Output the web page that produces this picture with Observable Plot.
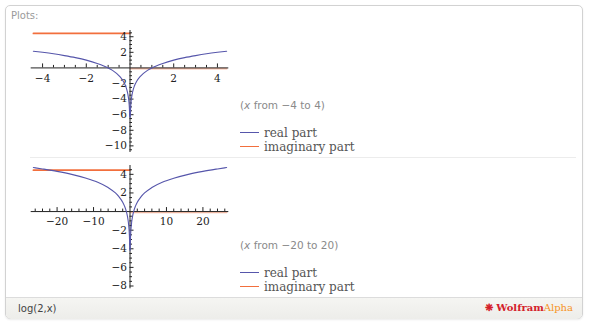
<!DOCTYPE html>
<html><head><meta charset="utf-8">
<script src="https://cdn.jsdelivr.net/npm/d3@7"></script>
<script src="https://cdn.jsdelivr.net/npm/@observablehq/plot@0.6"></script>
<style>
html,body{margin:0;padding:0;background:#fff;}
body{width:590px;height:327px;position:relative;overflow:hidden;font-family:"DejaVu Sans",sans-serif;}
#box{position:absolute;left:5px;top:5px;width:578px;height:314px;border:1px solid #d2d2d2;border-radius:5px;box-sizing:border-box;box-shadow:0 1px 2px rgba(0,0,0,0.08);overflow:hidden;}
#plotsLbl{position:absolute;left:11px;top:10px;font-size:10px;color:#9a9a9a;}
.sep{position:absolute;left:30px;width:546px;height:1px;background:#ececec;top:157px;}
#footer{position:absolute;left:6px;top:297px;width:576px;height:21px;background:linear-gradient(#f5f5f2,#ededea);border-top:1px solid #dcdcdc;border-radius:0 0 5px 5px;}
#formula{position:absolute;left:12px;top:5px;font-size:10px;color:#444;}
#logo{position:absolute;right:9px;top:4px;font-family:"DejaVu Serif",serif;font-size:10px;font-weight:bold;white-space:nowrap;}
.panel{position:absolute;left:0;}
.note{position:absolute;left:240px;font-size:10.5px;color:#8a8a8a;white-space:nowrap;}
.leg{position:absolute;left:240px;font-family:"DejaVu Serif",serif;font-size:12px;color:#555;white-space:nowrap;line-height:14px;}
.sw{display:inline-block;width:19px;height:0;border-top:1.5px solid;vertical-align:middle;margin-right:5px;position:relative;top:-1px;}
</style>
</head><body>
<div id="box"></div>
<div id="plotsLbl">Plots:</div>
<div class="sep"></div>
<div id="p1" class="panel" style="top:0px"></div>
<div id="p2" class="panel" style="top:158px"></div>
<div class="note" style="top:99px">(<i>x</i> from −4 to 4)</div>
<div class="leg" style="top:126px"><span class="sw" id="s1r"></span>real part</div>
<div class="leg" style="top:140px"><span class="sw" id="s1i"></span>imaginary part</div>
<div class="note" style="top:239px">(<i>x</i> from −20 to 20)</div>
<div class="leg" style="top:266px"><span class="sw" id="s2r"></span>real part</div>
<div class="leg" style="top:280px"><span class="sw" id="s2i"></span>imaginary part</div>
<div id="footer"><div id="formula">log(2,x)</div><div id="logo"><span style="color:#d4202a">❋ Wolfram</span><span style="color:#f7931e;font-weight:normal">Alpha</span></div></div>
<script>
// ---- colours ----
const realColor = "#5656ab";
const imagColor = "#f26f3d";
const axisColor = "#222";

// ---- panel 1: x from -4 to 4 ----
const realX1 = [-4.42,-4,-3.5,-3,-2.5,-2,-1.5,-1.2,-1,-0.8,-0.6,-0.45,-0.3,-0.2,-0.12,-0.07,-0.04,-0.025,-0.0125,
                0.0125,0.025,0.04,0.07,0.12,0.2,0.3,0.45,0.6,0.8,1,1.2,1.5,2,2.5,3,3.5,4,4.42];
const realY1 = [2.14,2,1.81,1.58,1.32,1,0.58,0.26,0,-0.32,-0.74,-1.15,-1.74,-2.32,-3.06,-3.84,-4.64,-5.32,-6.32,
                -6.32,-5.32,-4.64,-3.84,-3.06,-2.32,-1.74,-1.15,-0.74,-0.32,0,0.26,0.58,1,1.32,1.58,1.81,2,2.14];
const imagX1 = [-4.42,-0.0125,0.0125,4.42];
const imagY1 = [4.53,4.53,0,0];
const imagSeg1 = ["neg","neg","pos","pos"];
const xTicks1 = [-4,-2,2,4];
const xTickLabels1 = ["−4","−2","2","4"];
const yTicks1 = [-10,-8,-6,-4,-2,2,4];
const yTickLabels1 = ["−10","−8","−6","−4","−2","2","4"];

// ---- panel 2: x from -20 to 20 ----
const realX2 = [-26.5,-24,-20,-16,-12,-9,-6,-4,-3,-2,-1.5,-1,-0.7,-0.45,-0.3,-0.18,-0.11,-0.075,-0.055,
                0.055,0.075,0.11,0.18,0.3,0.45,0.7,1,1.5,2,3,4,6,9,12,16,20,24,26.5];
const realY2 = [4.73,4.58,4.32,4,3.58,3.17,2.58,2,1.58,1,0.58,0,-0.51,-1.15,-1.74,-2.47,-3.18,-3.74,-4.18,
                -4.18,-3.74,-3.18,-2.47,-1.74,-1.15,-0.51,0,0.58,1,1.58,2,2.58,3.17,3.58,4,4.32,4.58,4.73];
const imagX2 = [-26.5,-0.055,0.055,26.5];
const imagY2 = [4.53,4.53,0,0];
const imagSeg2 = ["neg","neg","pos","pos"];
const xTicks2 = [-20,-10,10,20];
const xTickLabels2 = ["−20","−10","10","20"];
const yTicks2 = [-8,-6,-4,-2,2,4];
const yTickLabels2 = ["−8","−6","−4","−2","2","4"];

for (const id of ["s1r","s2r"]) document.getElementById(id).style.borderColor = realColor;
for (const id of ["s1i","s2i"]) document.getElementById(id).style.borderColor = imagColor;

function panel({realX, realY, imagX, imagY, imagSeg, xTicks, xLabels, yTicks, yLabels,
                xMinorStep, yMinorStep, xDomain, yDomain, height, marginTop, marginBottom, xLabelDy}) {
  const real = realX.map((x, i) => ({x, y: realY[i]}));
  const imag = imagX.map((x, i) => ({x, y: imagY[i], seg: imagSeg[i]}));
  const xMinor = d3.range(Math.ceil(xDomain[0] / xMinorStep) * xMinorStep, xDomain[1], xMinorStep)
    .map(v => +v.toFixed(4)).filter(v => v !== 0 && !xTicks.includes(v) && Math.abs(v) < Math.abs(xDomain[0]) - 0.05);
  const yMinor = d3.range(Math.ceil(yDomain[0] / yMinorStep) * yMinorStep, yDomain[1], yMinorStep)
    .map(v => +v.toFixed(4)).filter(v => v !== 0 && !yTicks.includes(v));
  const font = "DejaVu Serif";
  return Plot.plot({
    width: 240, height,
    marginLeft: 30.7, marginRight: 240 - 228.3, marginTop, marginBottom,
    x: {domain: xDomain, axis: null},
    y: {domain: yDomain, axis: null},
    style: {background: "transparent", overflow: "visible"},
    marks: [
      Plot.line(imag, {x: "x", y: "y", z: "seg", stroke: imagColor, strokeWidth: 1.7,
                       strokeOpacity: d => d.seg === "pos" ? 0.45 : 1, dy: 0.8}),
      Plot.ruleY([0], {stroke: axisColor, strokeWidth: 1}),
      Plot.ruleX([0], {stroke: axisColor, strokeWidth: 1}),
      Plot.ruleX(xTicks, {x: d => d, y1: 0, y2: 0, insetBottom: 4, stroke: axisColor}),
      Plot.ruleX(xMinor, {x: d => d, y1: 0, y2: 0, insetBottom: 2.5, stroke: axisColor}),
      Plot.ruleY(yTicks, {y: d => d, x1: 0, x2: 0, insetRight: -4, stroke: axisColor}),
      Plot.ruleY(yMinor, {y: d => d, x1: 0, x2: 0, insetRight: -2.5, stroke: axisColor}),
      Plot.text(xTicks, {x: d => d, y: 0, text: (d, i) => xLabels[i], dy: xLabelDy, fontFamily: font, fontSize: 10.5, fill: "#222"}),
      Plot.text(yTicks, {x: 0, y: d => d, text: (d, i) => yLabels[i], dx: -3, textAnchor: "end", fontFamily: font, fontSize: 10.5, fill: "#222"}),
      Plot.line(real, {x: "x", y: "y", stroke: realColor, strokeWidth: 1.1, curve: "monotone-x"})
    ]
  });
}

document.getElementById("p1").append(panel({
  realX: realX1, realY: realY1, imagX: imagX1, imagY: imagY1, imagSeg: imagSeg1,
  xTicks: xTicks1, xLabels: xTickLabels1, yTicks: yTicks1, yLabels: yTickLabels1,
  xMinorStep: 0.5, yMinorStep: 0.5, xDomain: [-4.52, 4.52], yDomain: [-10.85, 4.8],
  height: 157, marginTop: 30, marginBottom: 5, xLabelDy: 11
}));
document.getElementById("p2").append(panel({
  realX: realX2, realY: realY2, imagX: imagX2, imagY: imagY2, imagSeg: imagSeg2,
  xTicks: xTicks2, xLabels: xTickLabels2, yTicks: yTicks2, yLabels: yTickLabels2,
  xMinorStep: 2, yMinorStep: 0.5, xDomain: [-27.1, 27.1], yDomain: [-8.3, 4.95],
  height: 140, marginTop: 7, marginBottom: 9.7, xLabelDy: 10
}));
</script>
</body></html>
